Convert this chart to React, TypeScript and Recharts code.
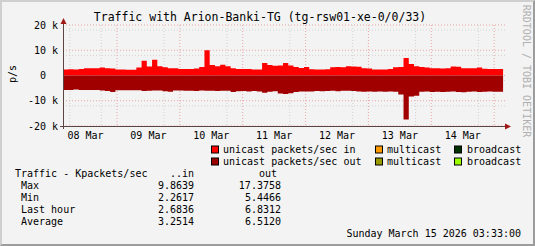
import { AreaChart, Area, XAxis, YAxis, CartesianGrid } from 'recharts';

// 2-hour samples, Kpackets/sec, starting Mar 8 ~03:30
const stepHours = 2;
const inKpps = [
  2.4, 2.5, 2.4, 2.6, 2.9, 2.9, 2.9, 3.2, 2.9, 2.8,
  2.4, 2.4, 2.3, 2.3, 3.2, 5.8, 3.6, 6.2, 3.7, 3.3,
  2.9, 2.9, 2.6, 2.6, 2.6, 2.8, 3.4, 10.0, 4.2, 3.7,
  4.3, 3.7, 2.9, 2.6, 2.6, 2.6, 2.4, 2.4, 5.0, 4.2,
  3.9, 4.0, 5.0, 4.0, 3.4, 3.0, 3.4, 2.5, 2.4, 2.4,
  2.5, 3.3, 3.4, 3.3, 3.7, 3.6, 3.5, 2.9, 2.8, 2.4,
  2.4, 2.4, 2.6, 3.3, 3.4, 6.9, 4.6, 3.7, 3.4, 3.2,
  2.9, 2.9, 2.8, 2.9, 3.6, 3.5, 2.9, 2.9, 2.9, 3.2,
  2.7, 2.6, 2.6, 2.6,
];
const outKpps = [
  5.7, 5.7, 5.5, 5.7, 5.7, 5.7, 5.7, 5.9, 6.1, 6.5,
  5.8, 5.8, 5.8, 5.8, 5.8, 6.1, 6.0, 5.9, 5.9, 6.2,
  6.4, 5.9, 5.9, 6.0, 6.0, 6.1, 5.9, 6.0, 6.0, 6.1,
  6.0, 6.0, 6.5, 6.2, 6.1, 6.3, 6.1, 6.3, 6.8, 6.4,
  6.2, 7.1, 7.3, 7.0, 6.5, 6.3, 6.3, 6.3, 6.1, 6.2,
  6.1, 6.0, 6.2, 6.0, 6.0, 6.1, 6.3, 6.4, 6.3, 6.4,
  6.3, 6.4, 6.3, 6.4, 7.5, 17.4, 8.3, 8.0, 6.4, 6.3,
  6.5, 6.4, 6.5, 6.4, 6.3, 6.5, 6.6, 6.4, 6.3, 6.5,
  6.4, 6.3, 6.4, 6.4,
];

const dayLabels = ['08 Mar', '09 Mar', '10 Mar', '11 Mar', '12 Mar', '13 Mar', '14 Mar'];
const dayLabelHours = [8.6, 32.6, 56.6, 80.6, 104.6, 128.6, 152.6];
const midnightHours = [20.6, 44.6, 68.6, 92.6, 116.6, 140.6, 164.6];
const xMax = 169.5;

const yTicks = [-20, -10, 0, 10, 20];
const yTickLabels = ['-20 k', '-10 k', '0', '10 k', '20 k'];

const statNames = ['Max', 'Min', 'Last hour', 'Average'];
const statIn = ['9.8639', '2.2617', '2.6836', '3.2514'];
const statOut = ['17.3758', '5.4466', '6.8312', '6.5120'];

const legendRow1 = [
  { label: 'unicast packets/sec in', color: '#ff0000' },
  { label: 'multicast', color: '#ff9900' },
  { label: 'broadcast', color: '#003300' },
];
const legendRow2 = [
  { label: 'unicast packets/sec out', color: '#990000' },
  { label: 'multicast', color: '#999900' },
  { label: 'broadcast', color: '#99ff00' },
];

const data = inKpps.map((v, i) => ({ h: i * stepHours, in: v, out: -outKpps[i] }));
data.push({ h: inKpps.length * stepHours, in: inKpps[inKpps.length - 1], out: -outKpps[outKpps.length - 1] });

const minorX: number[] = [];
for (let h = 2.6; h < xMax; h += 6) if (!midnightHours.some((m) => Math.abs(m - h) < 0.01)) minorX.push(h);
const minorY: number[] = [];
for (let v = -18; v <= 18; v += 2) if (v % 10 !== 0) minorY.push(v);

const mono = 'DejaVu Sans Mono, monospace';

const XTick = (props: any) => {
  const i = dayLabelHours.indexOf(props.payload.value);
  return (
    <text x={props.x} y={135} textAnchor="middle" dominantBaseline="central" fontFamily={mono} fontSize={10} fill="#000">
      {dayLabels[i]}
    </text>
  );
};

const YTick = (props: any) => {
  const i = yTicks.indexOf(props.payload.value);
  const label = yTickLabels[i];
  return (
    <text x={label.endsWith('k') ? 58 : 46} y={props.y} textAnchor="end" dominantBaseline="central" fontFamily={mono} fontSize={10} fill="#000">
      {label}
    </text>
  );
};

export default function App() {
  return (
    <div
      style={{
        position: 'fixed', left: 0, top: 0, width: 535, height: 246, boxSizing: 'border-box',
        background: '#f3f3f3', borderTop: '2px solid #cfcfcf', borderLeft: '2px solid #cfcfcf',
        borderBottom: '2px solid #9c9c9c', borderRight: '2px solid #9c9c9c',
      }}
    >
      <div style={{ position: 'absolute', left: -2, top: -2 }}>
        <AreaChart width={535} height={246} data={data} margin={{ top: 25, right: 28, bottom: 100, left: 3 }}>
          <CartesianGrid horizontalValues={minorY} verticalValues={minorX} stroke="#d2d2d2" strokeDasharray="1 2" />
          <CartesianGrid horizontalValues={yTicks} verticalValues={midnightHours} stroke="#eaa5a5" strokeDasharray="1 2" />
          <XAxis dataKey="h" type="number" domain={[0, xMax]} ticks={dayLabelHours} tick={<XTick />} axisLine={false} tickLine={false} height={20} allowDataOverflow />
          <YAxis type="number" domain={[-20, 20]} ticks={yTicks} tick={<YTick />} axisLine={false} tickLine={false} width={60} allowDataOverflow />
          <Area type="stepAfter" dataKey="in" fill="#ff0000" fillOpacity={1} stroke="none" isAnimationActive={false} />
          <Area type="stepAfter" dataKey="out" fill="#a00000" fillOpacity={1} stroke="none" isAnimationActive={false} />
        </AreaChart>
        <svg width={535} height={246} style={{ position: 'absolute', left: 0, top: 0, pointerEvents: 'none' }}>
          <text x={260} y={17} textAnchor="middle" dominantBaseline="central" fontFamily={mono} fontSize={11.5} fill="#000">
            Traffic with Arion-Banki-TG (tg-rsw01-xe-0/0/33)
          </text>
          <text transform="translate(12,74) rotate(-90)" textAnchor="middle" dominantBaseline="central" fontFamily={mono} fontSize={10} fill="#000">
            p/s
          </text>
          <text transform="translate(526,71) rotate(90)" textAnchor="middle" dominantBaseline="central" fontFamily={mono} fontSize={10} fill="#b0b0b0">
            RRDTOOL / TOBI OETIKER
          </text>
          {/* axes with arrows */}
          <line x1={63.5} y1={129} x2={63.5} y2={22} stroke="#5c4444" strokeWidth={1} />
          <line x1={60} y1={126.5} x2={507} y2={126.5} stroke="#5c4444" strokeWidth={1} />
          <path d="M63.5,18 L60.5,24 L66.5,24 Z" fill="#a01818" />
          <path d="M511,126.5 L505,123.5 L505,129.5 Z" fill="#a01818" />
          {/* legend */}
          {[legendRow1, legendRow2].map((row, r) =>
            row.map((it, k) => {
              const sx = [211, 375, 454][k];
              const tx = [223, 387, 467][k];
              const cy = 149.5 + r * 12;
              return (
                <g key={r + '-' + k}>
                  <rect x={sx + 0.5} y={cy - 3.5} width={7} height={7} fill={it.color} stroke="#000" strokeWidth={1} />
                  <text x={tx} y={cy} dominantBaseline="central" fontFamily={mono} fontSize={10} fill="#000">
                    {it.label}
                  </text>
                </g>
              );
            })
          )}
          {/* stats table */}
          <text x={15} y={173.7} dominantBaseline="central" fontFamily={mono} fontSize={10} fill="#000">
            Traffic - Kpackets/sec
          </text>
          <text x={194} y={173.7} textAnchor="end" dominantBaseline="central" fontFamily={mono} fontSize={10} fill="#000">
            ..in
          </text>
          <text x={277} y={173.7} textAnchor="end" dominantBaseline="central" fontFamily={mono} fontSize={10} fill="#000">
            out
          </text>
          {statNames.map((n, i) => (
            <g key={n}>
              <text x={21} y={185.7 + i * 12} dominantBaseline="central" fontFamily={mono} fontSize={10} fill="#000">
                {n}
              </text>
              <text x={194} y={185.7 + i * 12} textAnchor="end" dominantBaseline="central" fontFamily={mono} fontSize={10} fill="#000">
                {statIn[i]}
              </text>
              <text x={281} y={185.7 + i * 12} textAnchor="end" dominantBaseline="central" fontFamily={mono} fontSize={10} fill="#000">
                {statOut[i]}
              </text>
            </g>
          ))}
          <text x={521} y={233} textAnchor="end" dominantBaseline="central" fontFamily={mono} fontSize={10} fill="#000">
            Sunday March 15 2026 03:33:00
          </text>
        </svg>
      </div>
    </div>
  );
}
